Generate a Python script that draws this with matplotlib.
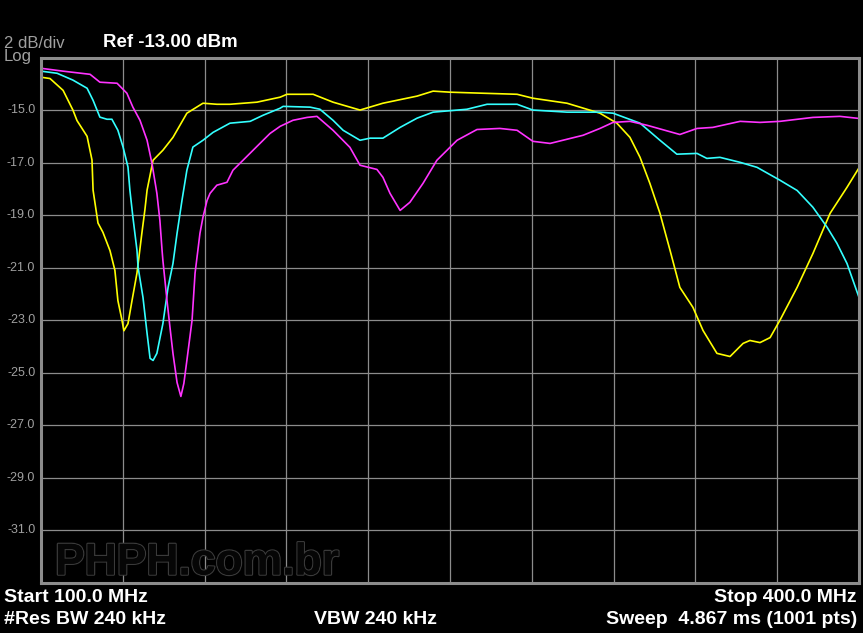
import matplotlib
matplotlib.use('Agg')
import matplotlib.pyplot as plt
import matplotlib.patheffects as pe

# sweep 100 - 400 MHz, ref -13 dBm, 2 dB/div
start_mhz = 100.0
stop_mhz = 400.0
ref_dbm = -13.0
db_per_div = 2.0
ytick_vals = [-15.0, -17.0, -19.0, -21.0, -23.0, -25.0, -27.0, -29.0, -31.0]

# trace 1 (yellow)
f_yellow = [100.0, 103.3, 108.1, 111.7, 113.2, 116.9, 118.7, 119.1, 120.9, 122.7,
            125.3, 127.1, 128.2, 129.7, 130.4, 131.9, 133.4, 135.2, 137.0, 138.1,
            138.9, 141.1, 144.7, 148.4, 153.5, 159.4, 164.5, 169.3, 179.2, 187.7,
            190.2, 199.8, 207.1, 217.0, 225.4, 237.9, 243.8, 250.0, 262.1, 274.6,
            280.4, 292.9, 305.0, 311.2, 316.0, 319.7, 323.3, 327.0, 330.7, 334.3,
            339.1, 342.8, 347.9, 352.7, 357.5, 360.0, 363.7, 367.4, 371.0, 377.3,
            383.1, 389.4, 395.6, 400.0]
db_yellow = [-13.75, -13.8, -14.25, -15.0, -15.4, -16.0, -16.9, -18.05, -19.3, -19.65,
             -20.35, -21.1, -22.25, -23.0, -23.4, -23.13, -22.24, -21.2, -19.68, -18.8,
             -18.05, -16.91, -16.53, -16.04, -15.12, -14.74, -14.78, -14.78, -14.7, -14.51,
             -14.4, -14.4, -14.7, -15.0, -14.74, -14.47, -14.28, -14.32, -14.36, -14.4,
             -14.55, -14.74, -15.12, -15.5, -16.04, -16.8, -17.79, -18.93, -20.34, -21.75,
             -22.51, -23.39, -24.26, -24.38, -23.88, -23.77, -23.85, -23.66, -23.0, -21.75,
             -20.46, -18.93, -17.94, -17.2]

# trace 2 (cyan)
f_cyan = [100.0, 105.9, 111.7, 116.9, 119.1, 121.6, 124.2, 126.0, 128.2, 130.1,
          131.9, 132.6, 133.7, 135.2, 135.6, 137.4, 138.9, 140.0, 141.1, 142.5,
          144.7, 146.6, 148.4, 149.9, 151.7, 153.5, 155.7, 159.4, 163.1, 169.3,
          176.7, 181.4, 187.7, 188.8, 198.7, 202.3, 207.1, 210.8, 217.0, 220.7,
          225.4, 231.7, 237.9, 243.8, 256.2, 263.6, 274.6, 280.4, 292.9, 305.0,
          309.8, 319.7, 327.0, 333.2, 340.6, 344.2, 349.0, 356.4, 362.6, 371.0,
          377.3, 383.1, 388.3, 391.9, 395.6, 400.0]
db_cyan = [-13.52, -13.6, -13.86, -14.17, -14.63, -15.27, -15.35, -15.35, -15.77, -16.41,
           -17.17, -18.05, -19.07, -20.34, -20.98, -22.13, -23.5, -24.45, -24.53, -24.26,
           -23.13, -21.75, -20.84, -19.69, -18.44, -17.29, -16.41, -16.15, -15.85, -15.5,
           -15.43, -15.2, -14.93, -14.86, -14.89, -14.97, -15.39, -15.77, -16.15, -16.07,
           -16.07, -15.66, -15.31, -15.08, -14.97, -14.78, -14.78, -15.0, -15.08, -15.08,
           -15.12, -15.5, -16.15, -16.68, -16.65, -16.84, -16.8, -16.99, -17.18, -17.67,
           -18.06, -18.7, -19.46, -20.07, -20.84, -22.13]

# trace 3 (magenta)
f_magenta = [100.0, 108.1, 118.0, 121.6, 127.9, 131.5, 133.7, 136.3, 138.9, 140.7,
             142.5, 143.6, 144.4, 144.7, 146.2, 147.3, 148.4, 149.9, 151.3, 152.4,
             153.5, 155.4, 156.5, 158.3, 159.4, 160.9, 162.0, 164.5, 168.2, 170.4,
             174.1, 180.3, 184.0, 187.7, 192.4, 197.6, 201.2, 207.1, 213.3, 217.0,
             223.2, 225.4, 228.0, 231.7, 235.3, 240.1, 245.2, 252.6, 259.9, 268.3,
             274.6, 280.4, 286.7, 298.8, 305.0, 309.8, 316.0, 322.3, 334.3, 340.6,
             346.4, 356.4, 363.7, 371.0, 383.1, 393.0, 400.0]
db_magenta = [-13.41, -13.52, -13.64, -13.94, -13.98, -14.36, -14.89, -15.39, -16.15, -17.03,
              -18.17, -19.2, -20.34, -20.72, -22.24, -23.27, -24.26, -25.37, -25.9, -25.4,
              -24.53, -23.0, -21.21, -19.69, -19.08, -18.44, -18.17, -17.86, -17.75, -17.29,
              -16.91, -16.27, -15.89, -15.62, -15.39, -15.28, -15.24, -15.77, -16.42, -17.1,
              -17.26, -17.56, -18.17, -18.82, -18.51, -17.79, -16.91, -16.15, -15.74, -15.7,
              -15.77, -16.19, -16.27, -15.96, -15.7, -15.47, -15.43, -15.58, -15.93, -15.7,
              -15.66, -15.43, -15.47, -15.43, -15.28, -15.24, -15.32]

W, H = 863, 633
GRAY = '#8c8c8c'
TXT_GRAY = '#a0a0a0'


def fx(x):
    return x / W


def fy(y):
    return 1 - y / H


fig = plt.figure(figsize=(W / 100, H / 100), dpi=100, facecolor='black')
ax = fig.add_axes([fx(41), fy(583), (859 - 41) / W, (583 - 57.5) / H])
ax.set_facecolor('black')

bottom = ref_dbm - 10 * db_per_div
ax.set_xlim(start_mhz, stop_mhz)
ax.set_ylim(bottom, ref_dbm)
ax.set_xticks([start_mhz + i * 30 for i in range(11)])
ax.set_yticks([ref_dbm - i * db_per_div for i in range(11)])
ax.tick_params(length=0, labelbottom=False, labelleft=False)
ax.grid(True, color=GRAY, lw=0.9)
for s in ax.spines.values():
    s.set_color(GRAY)
    s.set_linewidth(2.2)

ax.plot(f_yellow, db_yellow, color='#ffff00', lw=1.2)
ax.plot(f_cyan, db_cyan, color='#33ffff', lw=1.2)
ax.plot(f_magenta, db_magenta, color='#ff33ff', lw=1.2)

# y labels (gray, left of the grid)
for v in ytick_vals:
    ax.text(-0.007, (v - bottom) / (ref_dbm - bottom), f'{v:.1f}', transform=ax.transAxes,
            ha='right', va='center', color=TXT_GRAY, fontsize=9, family='Liberation Sans')

# watermark (embossed look)
wm = fig.text(fx(55), fy(563), 'PHPH.com.br', ha='left', va='center', fontsize=32,
              fontweight='bold', family='Liberation Sans', color='#060606')
wm.set_path_effects([pe.withStroke(linewidth=1.8, foreground='#3a3a3a'),
                     pe.Normal()])

# header
fig.text(fx(4), fy(43), '2 dB/div', ha='left', va='center', color=TXT_GRAY,
         fontsize=12, family='Liberation Sans')
fig.text(fx(4), fy(57), 'Log', ha='left', va='center', color=TXT_GRAY,
         fontsize=12, family='Liberation Sans')
fig.text(fx(103), fy(42.5), 'Ref -13.00 dBm', ha='left', va='center', color='white',
         fontsize=13.4, fontweight='bold', family='Liberation Sans')

# footer
bold = dict(color='white', fontsize=14, fontweight='bold', family='Liberation Sans', va='center')
fig.text(fx(4), fy(597), 'Start 100.0 MHz', ha='left', **bold)
fig.text(fx(4), fy(619), '#Res BW 240 kHz', ha='left', **bold)
fig.text(fx(375), fy(619), 'VBW 240 kHz', ha='center', **bold)
fig.text(fx(857), fy(597), 'Stop 400.0 MHz', ha='right', **bold)
fig.text(fx(857), fy(619), 'Sweep  4.867 ms (1001 pts)', ha='right', **bold)

fig.savefig('out.png', dpi=100, facecolor='black')
